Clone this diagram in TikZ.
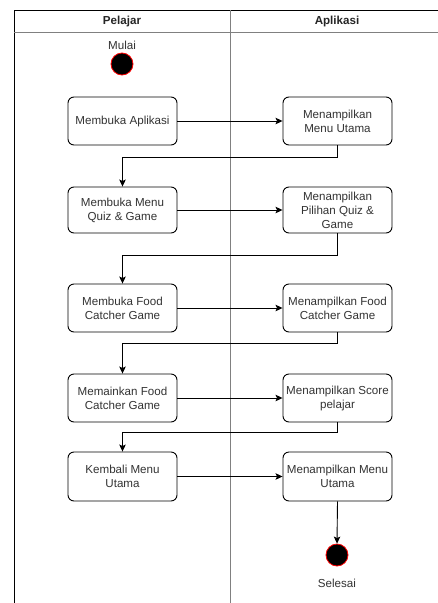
\documentclass[tikz,border=0pt]{standalone}
\usepackage{fontspec}
\setmainfont{Liberation Sans}
\usetikzlibrary{arrows.meta}
\definecolor{txt}{HTML}{333333}
\definecolor{lane}{HTML}{808080}
\begin{document}
\begin{tikzpicture}[x=1pt,y=-1pt,
  every node/.style={font=\fontsize{11.6}{14}\selectfont, text=txt},
  actbox/.style={draw=black, line width=0.9pt, rounded corners=6pt,
    minimum width=109pt, minimum height=48pt, inner sep=1pt, align=center},
  startend/.style={circle, fill=black, draw=red, line width=0.8pt, minimum size=22pt, inner sep=0pt},
  flow/.style={draw=black, line width=0.9pt, -{Stealth[length=7pt,width=6.5pt,inset=1.5pt]}},
  head/.style={font=\fontsize{11.6}{14}\selectfont\bfseries, text=black!85}]
\useasboundingbox (0,0) rectangle (438,603);
\fill[white] (0,0) rectangle (438,603);

% swimlane frame
\draw[black, line width=0.9pt] (14,603) -- (14,10) -- (438,10);
\draw[lane, line width=1pt] (14,32) -- (438,32);
\draw[lane, line width=1pt] (230,10) -- (230,603);
\node[head] (hPel) at (122,21) {Pelajar};
\node[head] (hApp) at (337,21) {Aplikasi};

% start
\node (lMulai) at (122,45) {Mulai};
\node[startend] (start) at (122,64) {};

% activities of Pelajar
\node[actbox] (a1) at (122.5,121) {Membuka Aplikasi};
\node[actbox, minimum height=46pt] (a2) at (122.5,210) {Membuka Menu\\Quiz \& Game};
\node[actbox] (a3) at (122.5,308) {Membuka Food\\Catcher Game};
\node[actbox] (a4) at (122.5,398) {Memainkan Food\\Catcher Game};
\node[actbox, minimum height=49pt] (a5) at (122.5,476.5) {Kembali Menu\\Utama};

% activities of Aplikasi
\node[actbox] (b1) at (337.5,121) {Menampilkan\\Menu Utama};
\node[actbox, minimum height=46pt] (b2) at (337.5,210) {Menampilkan\\Pilihan Quiz \&\\Game};
\node[actbox] (b3) at (337.5,308) {Menampilkan Food\\Catcher Game};
\node[actbox] (b4) at (337.5,398) {Menampilkan Score\\pelajar};
\node[actbox, minimum height=49pt] (b5) at (337.5,476.5) {Menampilkan Menu\\Utama};

% end
\node[startend] (finish) at (337,555) {};
\node (lSelesai) at (337,583) {Selesai};

% flows
\draw[flow] (a1.east) -- (b1.west);
\draw[flow] (b1.south) -- ++(0,12) -| (a2.north);
\draw[flow] (a2.east) -- (b2.west);
\draw[flow] (b2.south) -- ++(0,22) -| (a3.north);
\draw[flow] (a3.east) -- (b3.west);
\draw[flow] (b3.south) -- ++(0,11) -| (a4.north);
\draw[flow] (a4.east) -- (b4.west);
\draw[flow] (b4.south) -- ++(0,10) -| (a5.north);
\draw[flow] (a5.east) -- (b5.west);
\draw[flow] (b5.south) -- (finish.north);
\end{tikzpicture}
\end{document}
